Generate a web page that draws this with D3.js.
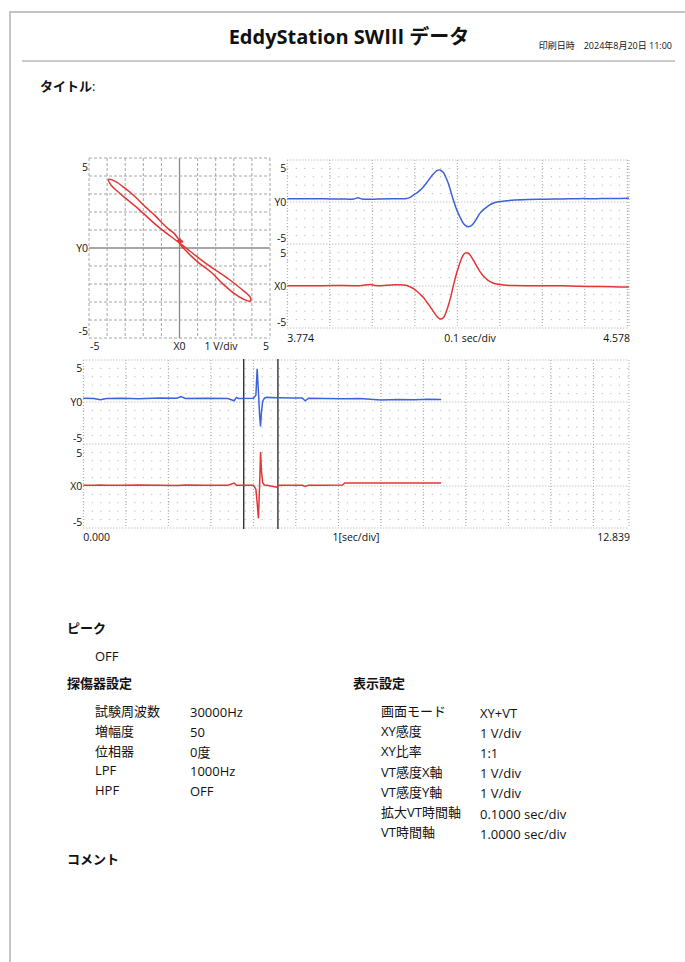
<!DOCTYPE html>
<html>
<head>
<meta charset="utf-8">
<script src="https://cdn.jsdelivr.net/npm/d3@7"></script>
<style>
  body { margin: 0; background: #fff; }
  svg text { font-family: 'Open Sans', 'Noto Sans CJK JP', sans-serif; fill: #111; }
</style>
</head>
<body>
<svg id="page"></svg>
<script>
// zoomed window (3.774 - 4.578 sec), X = red channel, Y = blue channel
const zoomTime = [3.774, 3.80, 3.83, 3.86, 3.90, 3.93, 3.94, 3.95, 3.97, 3.98, 3.99, 4.02, 4.04, 4.055, 4.063, 4.07, 4.078, 4.086, 4.094, 4.102,
  4.11, 4.118, 4.125, 4.133, 4.141, 4.147, 4.153, 4.159, 4.165, 4.172, 4.18, 4.186, 4.192, 4.2, 4.206, 4.212, 4.22, 4.227, 4.237, 4.247,
  4.258, 4.27, 4.29, 4.31, 4.34, 4.38, 4.42, 4.46, 4.50, 4.54, 4.578];
const zoomY = [0.40, 0.40, 0.38, 0.38, 0.36, 0.36, 0.50, 0.36, 0.34, 0.34, 0.36, 0.38, 0.38, 0.42, 0.56, 0.80, 1.05, 1.38, 1.80, 2.30,
  2.85, 3.35, 3.70, 3.82, 3.52, 2.95, 2.20, 1.20, 0.20, -0.85, -1.75, -2.35, -2.75, -2.95, -2.85, -2.55, -1.95, -1.35, -0.85, -0.45,
  -0.15, 0.02, 0.15, 0.24, 0.30, 0.34, 0.36, 0.40, 0.40, 0.42, 0.44];
const zoomX = [0.04, 0.04, 0.04, 0.04, 0.05, 0.04, 0.04, 0.06, 0.18, 0.05, 0.04, 0.12, 0.16, 0.06, -0.10, -0.28, -0.60, -0.95, -1.35, -1.90,
  -2.45, -3.05, -3.55, -3.92, -3.80, -3.20, -2.30, -1.20, 0.10, 1.45, 2.75, 3.50, 3.92, 3.90, 3.55, 3.05, 2.35, 1.75, 1.10, 0.65,
  0.36, 0.20, 0.08, 0.05, 0.04, 0.04, 0.02, -0.04, -0.06, -0.10, -0.12];

// whole record (0 - 12.839 sec)
const longTime = [0, 0.25, 0.4, 0.55, 0.9, 1.3, 1.8, 2.2, 2.3, 2.4, 2.9, 3.4, 3.55, 3.6, 3.65, 4.0, 4.06, 4.09, 4.12, 4.15,
  4.17, 4.19, 4.22, 4.26, 4.32, 4.55, 4.6, 4.9, 5.15, 5.22, 5.3, 5.7, 6.1, 6.15, 6.5, 7.0, 7.4, 7.8, 8.1, 8.42];
const longY = [0.45, 0.42, 0.28, 0.42, 0.45, 0.40, 0.48, 0.45, 0.65, 0.42, 0.45, 0.42, 0.15, 0.55, 0.42, 0.45, 0.80, 3.95, 1.20, -1.80,
  -2.90, -1.20, 0.10, 0.45, 0.55, 0.50, 0.52, 0.48, 0.48, 0.15, 0.45, 0.42, 0.40, 0.40, 0.42, 0.25, 0.30, 0.28, 0.32, 0.30];
const longX = [0.10, 0.10, 0.12, 0.08, 0.10, 0.12, 0.08, 0.05, 0.10, 0.12, 0.10, 0.10, 0.35, 0.08, 0.10, 0.10, -0.40, -2.00, -3.85, 0.50,
  4.05, 1.80, 0.40, 0.12, 0.10, -0.15, 0.08, 0.10, 0.08, -0.05, 0.10, 0.10, 0.12, 0.36, 0.36, 0.36, 0.35, 0.36, 0.35, 0.35];

const zoomRange = [3.774, 4.578];
const longRange = [0, 12.839];

const leftSettings = [["試験周波数", "30000Hz"], ["増幅度", "50"], ["位相器", "0度"], ["LPF", "1000Hz"], ["HPF", "OFF"]];
const rightSettings = [["画面モード", "XY+VT"], ["XY感度", "1 V/div"], ["XY比率", "1:1"], ["VT感度X軸", "1 V/div"],
  ["VT感度Y軸", "1 V/div"], ["拡大VT時間軸", "0.1000 sec/div"], ["VT時間軸", "1.0000 sec/div"]];

const BLUE = "#3c62dc";
const RED = "#e23636";
const DOT = "#a8a8a8";

const svg = d3.select("#page").attr("width", 685).attr("height", 962);
svg.append("rect").attr("width", 685).attr("height", 962).attr("fill", "#fff");

// page frame
svg.append("path").attr("d", "M10,962 V12 H685").attr("fill", "none").attr("stroke", "#c4c4c4").attr("stroke-width", 2);

// header
const title = svg.append("text").attr("x", 349).attr("y", 44).attr("text-anchor", "middle")
  .style("font-size", "20px").style("font-weight", "bold");
title.append("tspan").text("EddyStation SW");
title.append("tspan").style("font-family", "'Noto Sans CJK JP'").text("Ⅲ");
title.append("tspan").text(" データ");
svg.append("text").attr("x", 672).attr("y", 49).attr("text-anchor", "end")
  .style("font-size", "9px").text("印刷日時　2024年8月20日 11:00");
svg.append("line").attr("x1", 22).attr("x2", 675).attr("y1", 61).attr("y2", 61)
  .attr("stroke", "#b8b8b8").attr("stroke-width", 1.5);
const sub = svg.append("text").attr("x", 40).attr("y", 91).style("font-size", "13px");
sub.append("tspan").style("font-weight", "bold").text("タイトル");
sub.append("tspan").text(":");

// ---------- XY plot ----------
const xy = { left: 89, right: 270, top: 158, bottom: 338 };
const xyX = d3.scaleLinear().domain([-5, 5]).range([xy.left, xy.right]);
const xyY = d3.scaleLinear().domain([-5, 5]).range([xy.bottom, xy.top]);
const xyG = svg.append("g");

d3.range(-5, 6).forEach(v => {
  const solid = v === 0;
  xyG.append("line").attr("x1", xyX(v)).attr("x2", xyX(v)).attr("y1", xy.top).attr("y2", xy.bottom)
    .attr("stroke", solid ? "#8a8a8a" : "#a6a6a6").attr("stroke-width", solid ? 1.3 : 1)
    .attr("stroke-dasharray", solid ? null : "3,2");
  xyG.append("line").attr("y1", xyY(v)).attr("y2", xyY(v)).attr("x1", xy.left).attr("x2", xy.right)
    .attr("stroke", solid ? "#8a8a8a" : "#a6a6a6").attr("stroke-width", solid ? 1.3 : 1)
    .attr("stroke-dasharray", solid ? null : "3,2");
});

const xyLine = d3.line().x(i => xyX(zoomX[i])).y(i => xyY(zoomY[i])).curve(d3.curveCatmullRom.alpha(0.5));
xyG.append("path").datum(d3.range(zoomTime.length)).attr("d", xyLine)
  .attr("fill", "none").attr("stroke", RED).attr("stroke-width", 1.5);
xyG.append("circle").attr("cx", xyX(0.02)).attr("cy", xyY(0.4)).attr("r", 2).attr("fill", RED);

const labelStyle = sel => sel.style("font-size", "10.5px").attr("dominant-baseline", "central");
labelStyle(xyG.append("text").attr("x", xy.left - 1).attr("y", xy.top + 9).attr("text-anchor", "end").text("5"));
labelStyle(xyG.append("text").attr("x", xy.left - 1).attr("y", xyY(0)).attr("text-anchor", "end").text("Y0"));
labelStyle(xyG.append("text").attr("x", xy.left - 1).attr("y", xy.bottom - 7).attr("text-anchor", "end").text("-5"));
labelStyle(xyG.append("text").attr("x", xy.left + 1).attr("y", 346).attr("text-anchor", "start").text("-5"));
labelStyle(xyG.append("text").attr("x", xyX(0)).attr("y", 346).attr("text-anchor", "middle").text("X0"));
labelStyle(xyG.append("text").attr("x", 221).attr("y", 346).attr("text-anchor", "middle").text("1 V/div"));
labelStyle(xyG.append("text").attr("x", xy.right - 1).attr("y", 346).attr("text-anchor", "end").text("5"));

// ---------- VT plots (two stacked panels: Y on top, X below) ----------
const PX_PER_SEC_LONG = 42.5;
function drawVT(opts) {
  const { left, right, top, panelH, time, range, divSec, yData, xData, curve, xLabels, labelY } = opts;
  const g = svg.append("g");
  const x = d3.scaleLinear().domain(range).range([left, right]);
  const yTop = d3.scaleLinear().domain([-5, 5]).range([top + panelH, top]);
  const yBot = d3.scaleLinear().domain([-5, 5]).range([top + 2 * panelH, top + panelH]);
  const majorPx = x(range[0] + divSec) - x(range[0]);
  const minorPx = majorPx / 5;
  const rowPx = panelH / 10;
  const bottom = top + 2 * panelH;

  // dot lattice
  d3.range(0, 21).forEach(k => {
    const yy = top + k * rowPx;
    const dense = k % 5 === 0;
    g.append("line").attr("x1", left).attr("x2", right).attr("y1", yy).attr("y2", yy)
      .attr("stroke", DOT).attr("stroke-width", 1)
      .attr("stroke-dasharray", dense ? "1,2" : `1,${(minorPx - 1).toFixed(2)}`);
  });
  // major verticals
  for (let xx = left; xx <= right + 0.5; xx += majorPx) {
    g.append("line").attr("x1", xx).attr("x2", xx).attr("y1", top).attr("y2", bottom)
      .attr("stroke", DOT).attr("stroke-width", 1).attr("stroke-dasharray", "1,2");
  }
  g.append("line").attr("x1", right).attr("x2", right).attr("y1", top).attr("y2", bottom)
    .attr("stroke", DOT).attr("stroke-width", 1).attr("stroke-dasharray", "1,2");

  if (opts.cursors) {
    opts.cursors.forEach(c => {
      g.append("line").attr("x1", x(c)).attr("x2", x(c)).attr("y1", top - 1).attr("y2", bottom + 1)
        .attr("stroke", "#222").attr("stroke-width", 1.3);
    });
  }

  const lineTop = d3.line().x((d, i) => x(time[i])).y(d => yTop(d)).curve(curve);
  const lineBot = d3.line().x((d, i) => x(time[i])).y(d => yBot(d)).curve(curve);
  g.append("path").datum(yData).attr("d", lineTop).attr("fill", "none").attr("stroke", BLUE).attr("stroke-width", 1.5);
  g.append("path").datum(xData).attr("d", lineBot).attr("fill", "none").attr("stroke", RED).attr("stroke-width", 1.5);

  const lx = left - 1;
  [[top + 7.5, "5"], [yTop(0), "Y0"], [top + panelH - 6, "-5"],
   [top + panelH + 8.5, "5"], [yBot(0), "X0"], [bottom - 6, "-5"]].forEach(([yy, t]) => {
    labelStyle(g.append("text").attr("x", lx).attr("y", yy).attr("text-anchor", "end").text(t));
  });
  labelStyle(g.append("text").attr("x", left).attr("y", labelY).attr("text-anchor", "start").text(xLabels[0]));
  labelStyle(g.append("text").attr("x", xLabels[3]).attr("y", labelY).attr("text-anchor", "middle").text(xLabels[1]));
  labelStyle(g.append("text").attr("x", right + 1).attr("y", labelY).attr("text-anchor", "end").text(xLabels[2]));
}

drawVT({
  left: 629 - (zoomRange[1] - zoomRange[0]) * 10 * PX_PER_SEC_LONG, right: 629, top: 160, panelH: 84,
  time: zoomTime, range: zoomRange, divSec: 0.1, yData: zoomY, xData: zoomX,
  curve: d3.curveCatmullRom.alpha(0.5), xLabels: ["3.774", "0.1 sec/div", "4.578", 470], labelY: 338
});

drawVT({
  left: 629 - longRange[1] * PX_PER_SEC_LONG, right: 629, top: 360, panelH: 84,
  time: longTime, range: longRange, divSec: 1, yData: longY, xData: longX,
  curve: d3.curveLinear, xLabels: ["0.000", "1[sec/div]", "12.839", 356], labelY: 537,
  cursors: zoomRange
});

// ---------- settings text ----------
const heading = (x, y, t) => svg.append("text").attr("x", x).attr("y", y)
  .style("font-size", "13px").style("font-weight", "bold").text(t);
const body = (x, y, t) => svg.append("text").attr("x", x).attr("y", y).style("font-size", "13px").text(t);

heading(67, 633, "ピーク");
body(95, 661, "OFF");
heading(67, 688, "探傷器設定");
heading(353, 688, "表示設定");
leftSettings.forEach(([k, v], i) => {
  body(95, 716 + i * 19.8, k);
  body(190, 717 + i * 19.8, v);
});
rightSettings.forEach(([k, v], i) => {
  body(381, 716 + i * 20.2, k);
  body(480, 717.5 + i * 20.2, v);
});
heading(67, 864, "コメント");
</script>
</body>
</html>
